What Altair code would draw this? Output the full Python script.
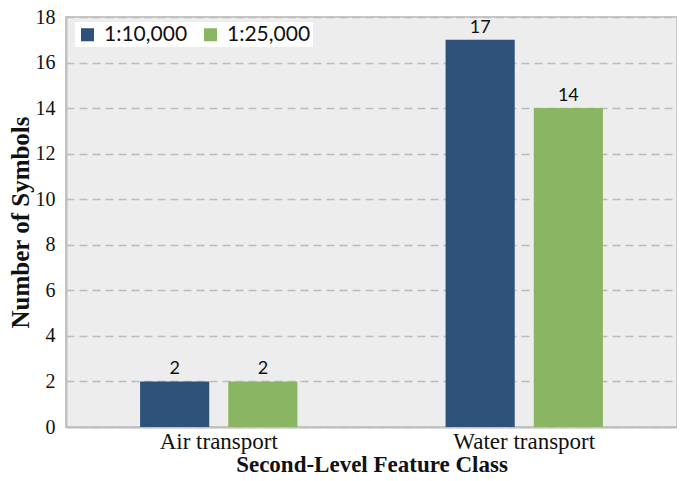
import altair as alt
import pandas as pd

categories = ["Air transport", "Water transport"]
series = ["1:10,000", "1:25,000"]
values_10k = [2, 17]
values_25k = [2, 14]
colors = ["#2D5179", "#8AB562"]

rows = []
for i, c in enumerate(categories):
    rows.append({"cls": c, "scale": series[0], "n": values_10k[i]})
    rows.append({"cls": c, "scale": series[1], "n": values_25k[i]})
df = pd.DataFrame(rows)

serif = "Liberation Serif"
sans = "Lato"

x = alt.X("cls:N", sort=categories,
          scale=alt.Scale(paddingInner=0, paddingOuter=0),
          axis=alt.Axis(title="Second-Level Feature Class", labelAngle=0,
                        labelFont=serif, labelFontSize=23, labelColor="#111",
                        titleFont=serif, titleFontSize=23, titleFontWeight="bold",
                        titleColor="#111", ticks=False, labelPadding=3,
                        titlePadding=0, domainColor="#BFBFBF", domainWidth=2))
xo = alt.XOffset("scale:N", sort=series,
                 scale=alt.Scale(paddingInner=0.216, paddingOuter=0.84))

base = alt.Chart(df).encode(x=x, xOffset=xo)

bars = base.mark_bar().encode(
    y=alt.Y("n:Q", scale=alt.Scale(domain=[0, 18]),
            axis=alt.Axis(title="Number of Symbols", values=list(range(0, 19, 2)),
                          labelFont=serif, labelFontSize=20, labelColor="#111",
                          titleFont=serif, titleFontSize=25, titleFontWeight="bold",
                          titleColor="#111", ticks=False, labelPadding=11,
                          titlePadding=2, grid=True, gridDash=[8, 5],
                          gridColor="#BDBDBD", gridWidth=1.5,
                          domainColor="#BFBFBF", domainWidth=2)),
    color=alt.Color("scale:N", sort=series,
                    scale=alt.Scale(domain=series, range=colors),
                    legend=alt.Legend(title=None, orient="none", legendX=9, legendY=5,
                                      direction="horizontal", fillColor="white",
                                      padding=2, symbolType="square", symbolSize=170,
                                      symbolStrokeWidth=0, labelFont=sans,
                                      labelFontSize=21, labelColor="#111",
                                      labelOffset=6, columnPadding=12, symbolOffset=0)),
)

labels = base.mark_text(dy=-12, font=sans, fontSize=18, color="#111").encode(
    y="n:Q", text="n:Q")

chart = (bars + labels).properties(
    width=611, height=410,
    autosize=alt.AutoSizeParams(type="none"),
    padding={"left": 58, "top": 9, "right": 0, "bottom": 54},
).configure_view(fill="#EDEDED", stroke="#C8C8C8", strokeWidth=2)

chart.save("out.html", embed_options={"renderer": "svg", "actions": False})
